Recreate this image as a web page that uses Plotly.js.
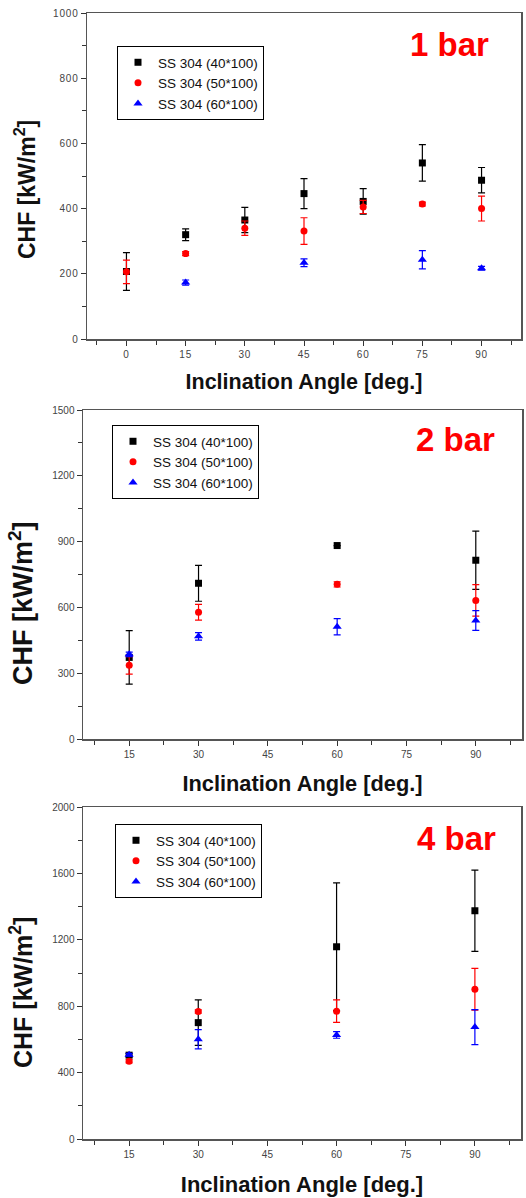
<!DOCTYPE html>
<html>
<head>
<meta charset="utf-8">
<script src="https://cdn.plot.ly/plotly-3.0.1.min.js"></script>
<style>
html,body{margin:0;padding:0;background:#fff;}
#chart{width:526px;height:1198px;}
.xtick text,.ytick text{letter-spacing:0.8px;}
</style>
</head>
<body>
<div id="chart"></div>
<script>
// ---- Data ----
const seriesNames = ["SS 304 (40*100)", "SS 304 (50*100)", "SS 304 (60*100)"];

// 1 bar
const p1_angle_black = [0, 15, 30, 45, 60, 75, 90];
const p1_chf_black   = [207, 320, 365, 446, 422, 540, 487];
const p1_err_black   = [58, 18, 39, 46, 39, 56, 39];
const p1_angle_red   = [0, 15, 30, 45, 60, 75, 90];
const p1_chf_red     = [206, 262, 340, 331, 405, 414, 400];
const p1_err_red     = [36, 6, 22, 41, 20, 6, 38];
const p1_angle_blue  = [15, 45, 75, 90];
const p1_chf_blue    = [173, 234, 243, 217];
const p1_err_blue    = [8, 12, 28, 6];

// 2 bar
const p2_angle_black = [15, 30, 60, 90];
const p2_chf_black   = [372, 710, 882, 815];
const p2_err_black   = [122, 82, 0, 133];
const p2_angle_red   = [15, 30, 60, 90];
const p2_chf_red     = [336, 578, 705, 632];
const p2_err_red     = [40, 36, 12, 72];
const p2_angle_blue  = [15, 30, 60, 90];
const p2_chf_blue    = [386, 468, 512, 540];
const p2_err_blue    = [10, 17, 37, 45];

// 4 bar
const p3_angle_black = [15, 30, 60, 90];
const p3_chf_black   = [505, 701, 1158, 1375];
const p3_err_black   = [10, 137, 385, 245];
const p3_angle_red   = [15, 30, 60, 90];
const p3_chf_red     = [468, 768, 770, 902];
const p3_err_red     = [10, 10, 68, 126];
const p3_angle_blue  = [15, 30, 60, 90];
const p3_chf_blue    = [508, 601, 627, 674];
const p3_err_blue    = [8, 58, 20, 105];

const xTickVals = [0, 15, 30, 45, 60, 75, 90];
const panelLabels = ["1 bar", "2 bar", "4 bar"];
const xTitle = "Inclination Angle [deg.]";
const yTitle = "CHF [kW/m<sup>2</sup>]";

// ---- Styling ----
const colors = ["#000000", "#ff0000", "#0000ff"];
const symbols = ["square", "circle", "triangle-up"];
const W = 526, H = 1198;
const FONT = "Arial, Liberation Sans, sans-serif";

function mk(x, y, e, i, xa, ya, lg) {
  return {
    type: "scatter", mode: "markers", x: x, y: y,
    name: seriesNames[i], xaxis: xa, yaxis: ya, legend: lg,
    marker: {symbol: symbols[i], color: colors[i], size: i === 2 ? 8 : 7},
    error_y: {type: "data", array: e, visible: true, color: colors[i], thickness: 1.2, width: 3.5}
  };
}

const data = [
  mk(p1_angle_black, p1_chf_black, p1_err_black, 0, "x", "y", "legend"),
  mk(p1_angle_red, p1_chf_red, p1_err_red, 1, "x", "y", "legend"),
  mk(p1_angle_blue, p1_chf_blue, p1_err_blue, 2, "x", "y", "legend"),
  mk(p2_angle_black, p2_chf_black, p2_err_black, 0, "x2", "y2", "legend2"),
  mk(p2_angle_red, p2_chf_red, p2_err_red, 1, "x2", "y2", "legend2"),
  mk(p2_angle_blue, p2_chf_blue, p2_err_blue, 2, "x2", "y2", "legend2"),
  mk(p3_angle_black, p3_chf_black, p3_err_black, 0, "x3", "y3", "legend3"),
  mk(p3_angle_red, p3_chf_red, p3_err_red, 1, "x3", "y3", "legend3"),
  mk(p3_angle_blue, p3_chf_blue, p3_err_blue, 2, "x3", "y3", "legend3")
];

const tickFont = {family: FONT, size: 10, color: "#444"};

function xax(l, r, range, anchor, fs, standoff) {
  return {
    domain: [l / W, r / W], range: range, anchor: anchor,
    tickvals: xTickVals.filter(v => v >= range[0]),
    ticks: "outside", ticklen: 5, tickwidth: 1, tickcolor: "#333",
    minor: {dtick: 7.5, tick0: 0, ticks: "outside", ticklen: 4, tickwidth: 1, tickcolor: "#333", showgrid: false},
    showline: true, linecolor: "#555", linewidth: 1.5, mirror: true,
    showgrid: false, zeroline: false, tickfont: tickFont,
    title: {text: xTitle, font: {family: FONT, size: fs, color: "#111", weight: "bold"}, standoff: standoff}
  };
}
function yax(top, bot, range, dtick, anchor) {
  return {
    domain: [(H - bot) / H, (H - top) / H], range: range, anchor: anchor,
    dtick: dtick, tick0: 0,
    ticks: "outside", ticklen: 5, tickwidth: 1, tickcolor: "#333",
    minor: {dtick: dtick / 2, ticks: "outside", ticklen: 4, tickwidth: 1, tickcolor: "#333", showgrid: false},
    showline: true, linecolor: "#555", linewidth: 1.5, mirror: true,
    showgrid: false, zeroline: false, tickfont: tickFont
  };
}
function leg(x, y) {
  return {
    x: x / W, y: (H - y) / H, xanchor: "left", yanchor: "top",
    bordercolor: "#000", borderwidth: 1, bgcolor: "rgba(255,255,255,0)",
    font: {family: FONT, size: 13.5, color: "#111"},
    tracegroupgap: 0, itemsizing: "trace"
  };
}
function lab(text, x, y) {
  return {text: text, x: x / W, y: (H - y) / H, xref: "paper", yref: "paper",
    showarrow: false, xanchor: "center", yanchor: "middle",
    font: {family: FONT, size: 33, color: "#ff0000", weight: "bold"}};
}
function ytl(x, y, fs) {
  return {text: yTitle, x: x / W, y: (H - y) / H, xref: "paper", yref: "paper",
    showarrow: false, xanchor: "center", yanchor: "middle", textangle: -90,
    font: {family: FONT, size: fs, color: "#111", weight: "bold"}};
}

const layout = {
  width: W, height: H,
  margin: {l: 0, r: 0, t: 0, b: 0},
  paper_bgcolor: "#fff", plot_bgcolor: "#fff",
  showlegend: true,
  xaxis: xax(87, 521, [-10, 100], "y", 21.5, 15),
  yaxis: yax(13, 339, [0, 1000], 200, "x"),
  xaxis2: xax(83, 522, [5, 100], "y2", 21.8, 17),
  yaxis2: yax(410, 739, [0, 1500], 300, "x2"),
  xaxis3: xax(83, 521, [5, 100], "y3", 22, 18),
  yaxis3: yax(807, 1139, [0, 2000], 400, "x3"),
  legend: leg(117, 46),
  legend2: leg(112, 425),
  legend3: leg(115, 824),
  annotations: [
    lab(panelLabels[0], 449, 45), lab(panelLabels[1], 455, 440), lab(panelLabels[2], 456, 838),
    ytl(25, 190, 23), ytl(21, 603, 27), ytl(21, 993, 25)
  ]
};

Plotly.newPlot("chart", data, layout, {displayModeBar: false, staticPlot: true});
</script>
</body>
</html>
